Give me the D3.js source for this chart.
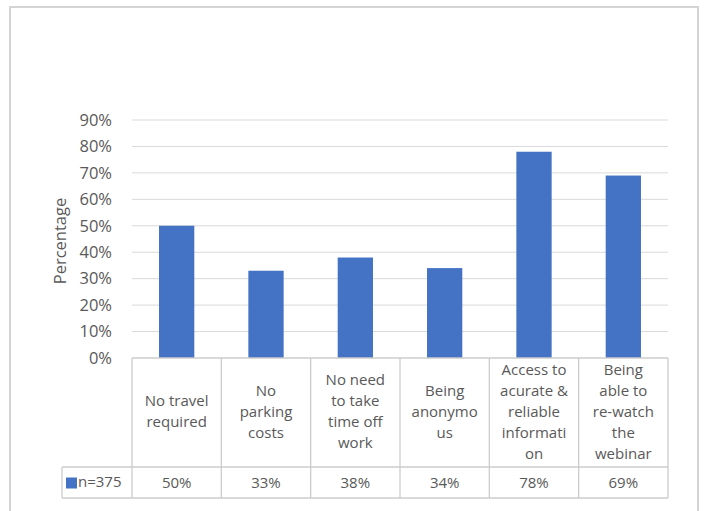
<!DOCTYPE html>
<html>
<head>
<meta charset="utf-8">
<script src="https://cdn.jsdelivr.net/npm/d3@7"></script>
<style>
  html, body { margin: 0; padding: 0; background: #fff; }
  svg { display: block; font-family: "Open Sans", "Liberation Sans", sans-serif; }
</style>
</head>
<body>
<svg id="chart" width="704" height="511"></svg>
<script>
// Reasons for preferring a webinar (share of respondents)
const categories = [
  ["No travel", "required"],
  ["No", "parking", "costs"],
  ["No need", "to take", "time off", "work"],
  ["Being", "anonymo", "us"],
  ["Access to", "acurate &", "reliable", "informati", "on"],
  ["Being", "able to", "re-watch", "the", "webinar"]
];
const values = [50, 33, 38, 34, 78, 69];
const seriesName = "n=375";
const yTicks = [0, 10, 20, 30, 40, 50, 60, 70, 80, 90];
const yTitle = "Percentage";

const svg = d3.select("#chart");
const textColor = "#595959";
const gridColor = "#d9d9d9";
const tableColor = "#cccccc";
const barColor = "#4472C4";

// outer frame
svg.append("rect")
  .attr("x", 10).attr("y", 7).attr("width", 688).attr("height", 520)
  .attr("fill", "none").attr("stroke", "#d4d4d4").attr("stroke-width", 2);

const plot = { left: 132, right: 668, top: 120, bottom: 358 };
const idx = d3.range(categories.length);

const x = d3.scaleBand().domain(idx).range([plot.left, plot.right]).paddingInner(0).paddingOuter(0);
const y = d3.scaleLinear().domain([0, 90]).range([plot.bottom, plot.top]);

// gridlines
svg.append("g").selectAll("line").data(yTicks.filter(t => t > 0)).join("line")
  .attr("x1", plot.left).attr("x2", plot.right)
  .attr("y1", d => y(d)).attr("y2", d => y(d))
  .attr("stroke", gridColor).attr("stroke-width", 1);

// y axis labels
const yAxis = d3.axisLeft(y).tickValues(yTicks).tickFormat(d => d + "%").tickSize(0).tickPadding(20);
const gy = svg.append("g").attr("transform", `translate(${plot.left},0)`).call(yAxis);
gy.select(".domain").remove();
gy.selectAll("text").attr("fill", textColor).style("font-size", "16.5px")
  .style("font-family", "'Open Sans', sans-serif");

// y title
svg.append("text")
  .attr("transform", `translate(66,${(plot.top + plot.bottom) / 2 + 2}) rotate(-90)`)
  .attr("text-anchor", "middle").attr("fill", textColor)
  .style("font-size", "16.5px").text(yTitle);

// bars
const bw = x.bandwidth() * 0.395;
svg.append("g").selectAll("rect").data(values).join("rect")
  .attr("x", (d, i) => x(i) + (x.bandwidth() - bw) / 2)
  .attr("width", bw)
  .attr("y", d => y(d))
  .attr("height", d => y(0) - y(d))
  .attr("fill", barColor);

// data table beneath the axis
const headBottom = 467, tableBottom = 498, legendLeft = 62;
const tg = svg.append("g").attr("stroke", tableColor).attr("stroke-width", 1.3).attr("fill", "none");
tg.append("line").attr("x1", plot.left).attr("x2", plot.right).attr("y1", plot.bottom).attr("y2", plot.bottom);
tg.append("line").attr("x1", legendLeft).attr("x2", plot.right).attr("y1", headBottom).attr("y2", headBottom);
tg.append("line").attr("x1", legendLeft).attr("x2", plot.right).attr("y1", tableBottom).attr("y2", tableBottom);
tg.append("line").attr("x1", legendLeft).attr("x2", legendLeft).attr("y1", headBottom).attr("y2", tableBottom);
tg.selectAll("line.col").data(idx.concat([categories.length])).join("line")
  .attr("class", "col")
  .attr("x1", i => i < categories.length ? x(i) : plot.right)
  .attr("x2", i => i < categories.length ? x(i) : plot.right)
  .attr("y1", plot.bottom).attr("y2", tableBottom);

// category headers
const lineH = 21;
const headMid = (plot.bottom + headBottom) / 2 - 1;
const hg = svg.append("g").attr("fill", textColor).style("font-size", "15px").attr("text-anchor", "middle");
categories.forEach((lines, i) => {
  const cx = x(i) + x.bandwidth() / 2;
  const y0 = headMid - (lines.length - 1) * lineH / 2;
  lines.forEach((ln, k) => {
    hg.append("text").attr("x", cx).attr("y", y0 + k * lineH).attr("dy", "0.35em").text(ln);
  });
});

// value row
const rowMid = (headBottom + tableBottom) / 2;
svg.append("g").selectAll("text").data(values).join("text")
  .attr("x", (d, i) => x(i) + x.bandwidth() / 2)
  .attr("y", rowMid).attr("dy", "0.35em")
  .attr("text-anchor", "middle").attr("fill", textColor)
  .style("font-size", "15px").text(d => d + "%");

// legend key in the table row
svg.append("rect").attr("x", 66).attr("y", rowMid - 5).attr("width", 11).attr("height", 11).attr("fill", barColor);
svg.append("text").attr("x", 78).attr("y", rowMid).attr("dy", "0.3em")
  .attr("fill", textColor).style("font-size", "15px").text(seriesName);
</script>
</body>
</html>
